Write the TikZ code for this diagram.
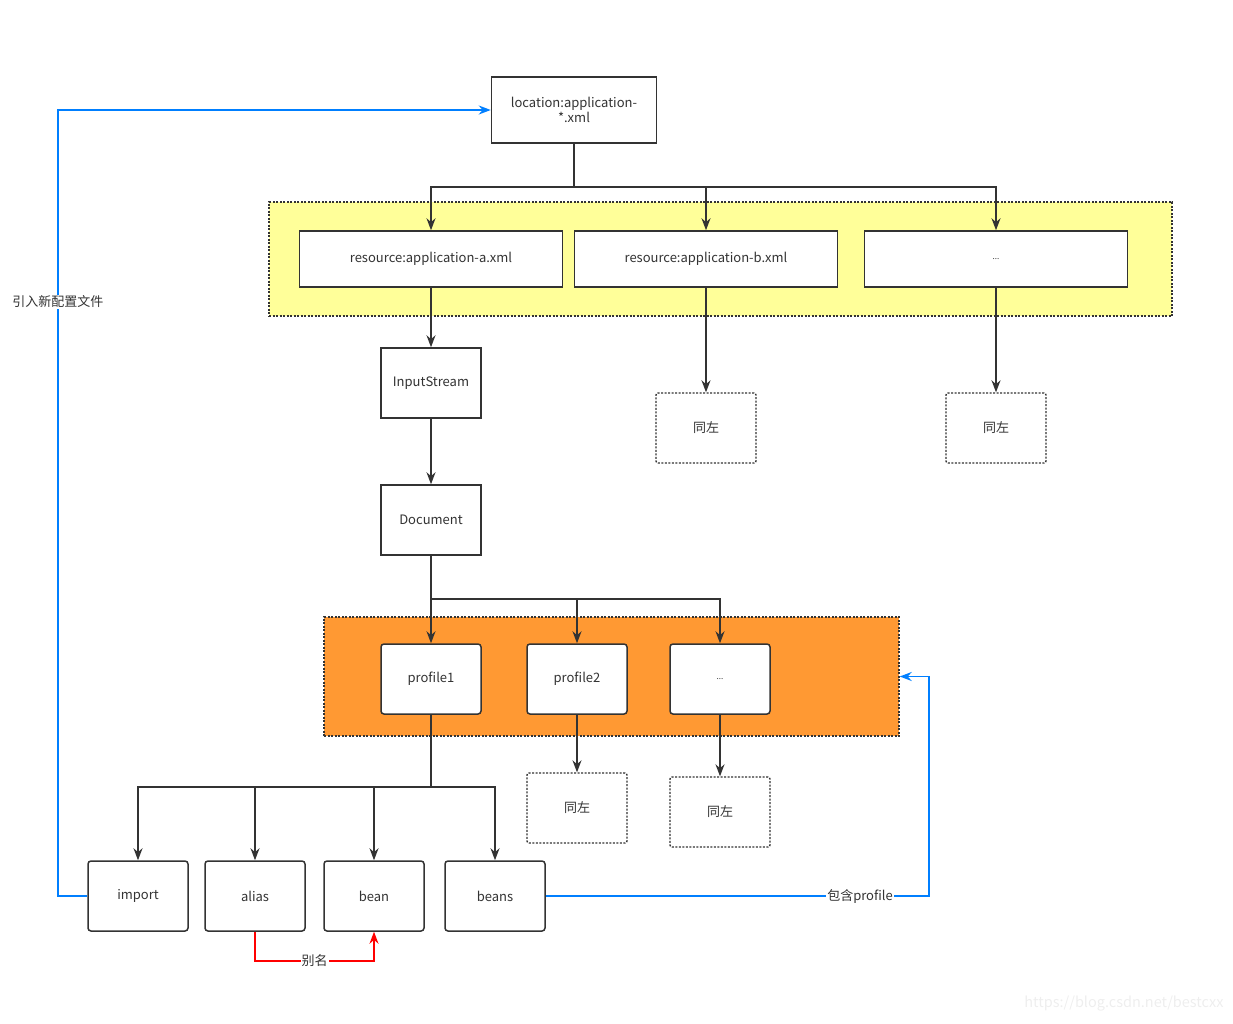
\documentclass[tikz,border=0pt]{standalone}
\usepackage{fontspec}
\setmainfont{Noto Sans CJK SC}
\usepackage{tikz}
\usetikzlibrary{arrows.meta}
\definecolor{linegray}{HTML}{333333}
\definecolor{groupyellow}{HTML}{FFFF99}
\definecolor{grouporange}{HTML}{FF9933}
\definecolor{linkblue}{HTML}{007FFF}
\definecolor{markgray}{HTML}{EEEEEE}

\begin{document}
\begin{tikzpicture}[x=1pt, y=-1pt, font=\fontsize{13}{15}\selectfont, text=linegray]
	\useasboundingbox (0,0) rectangle (1233,1023);
				\begin{scope}[every node/.style = {draw=linegray, line width=1.4pt, dash pattern=on 2pt off 1.5pt, inner sep=0pt}]
					\node[fill=groupyellow, minimum width=903, minimum height=114] (yellow) at (720.5,259) {};
					\node[fill=grouporange, minimum width=575, minimum height=119] (orange) at (611.5,676.5) {};
				\end{scope}
				\begin{scope}[every node/.style = {rectangle, draw=linegray, line width=1.5pt, fill=white, align=center, inner sep=2pt}]
					\node[minimum width=165, minimum height=66] (loc) at (574,110) {location:application-\\*.xml};
					\node[minimum width=263, minimum height=56] (resA) at (431,259) {resource:application-a.xml};
					\node[minimum width=263, minimum height=56] (resB) at (706,259) {resource:application-b.xml};
					\node[minimum width=263, minimum height=56] (resC) at (996,259) {\fontsize{8}{9}\selectfont ...};
					\node[minimum width=100, minimum height=70] (stream) at (431,383) {InputStream};
					\node[minimum width=100, minimum height=70] (doc) at (431,520) {Document};
				\end{scope}
				\begin{scope}[every node/.style = {rectangle, rounded corners=3pt, draw=linegray, line width=1.5pt, fill=white, minimum width=100, minimum height=70}]
					\node (prof1) at (431,679) {profile1};
					\node (prof2) at (577,679) {profile2};
					\node (prof3) at (720,679) {\fontsize{8}{9}\selectfont ...};
					\node (import) at (138,896) {import};
					\node (alias) at (255,896) {alias};
					\node (bean) at (374,896) {bean};
					\node (beans) at (495,896) {beans};
				\end{scope}
				\begin{scope}[every node/.style = {rectangle, rounded corners=2pt, draw=linegray, line width=1.4pt, dash pattern=on 2pt off 1.5pt, fill=white, minimum width=100, minimum height=70}]
					\node (sameB) at (706,428) {同左};
					\node (sameC) at (996,428) {同左};
					\node (same2) at (577,808) {同左};
					\node (same3) at (720,812) {同左};
				\end{scope}
					\coordinate (split1) at (574,187);
					\coordinate (split2) at (431,599);
					\coordinate (split3) at (431,787);
					\coordinate (turnL) at (58,896);
					\coordinate (turnR) at (929,896);
					\coordinate (turnA) at (255,961);
					\coordinate (turnB) at (374,961);
				\begin{scope}[>={Stealth[length=12pt, width=9pt]},
						every edge/.style={draw=linegray, line width=1.5pt}]
					\path [-] (loc) edge (split1);
					\draw [->, linegray, line width=1.5pt] (split1) -| (resA);
					\draw [->, linegray, line width=1.5pt] (split1) -| (resB);
					\draw [->, linegray, line width=1.5pt] (split1) -| (resC);
					\path [->] (resA) edge (stream);
					\path [->] (resB) edge (sameB);
					\path [->] (resC) edge (sameC);
					\path [->] (stream) edge (doc);
					\path [-] (doc) edge (split2);
					\draw [->, linegray, line width=1.5pt] (split2) -| (prof1);
					\draw [->, linegray, line width=1.5pt] (split2) -| (prof2);
					\draw [->, linegray, line width=1.5pt] (split2) -| (prof3);
					\path [->] (prof2) edge (same2);
					\path [->] (prof3) edge (same3);
					\path [-] (prof1) edge (split3);
					\draw [->, linegray, line width=1.5pt] (split3) -| (import);
					\draw [->, linegray, line width=1.5pt] (split3) -| (alias);
					\draw [->, linegray, line width=1.5pt] (split3) -| (bean);
					\draw [->, linegray, line width=1.5pt] (split3) -| (beans);
					\draw [->, linkblue, line width=1.5pt] (import) -- (turnL) |- node[pos=0.378, fill=white, inner sep=1pt, text=linegray] {引入新配置文件} (loc);
					\draw [->, linkblue, line width=1.5pt] (beans) -- node[pos=0.82, fill=white, inner sep=1pt, text=linegray] {包含profile} (turnR) |- (orange);
					\draw [->, red, line width=1.5pt] (alias) -- (turnA) -- node[fill=white, inner sep=1pt, text=linegray] {别名} (turnB) -- (bean);
				\end{scope}
					\node[text=markgray, font=\fontsize{14.5}{16}\selectfont] (mark) at (1124,1004) {https://blog.csdn.net/bestcxx};
			\end{tikzpicture}
\end{document}
